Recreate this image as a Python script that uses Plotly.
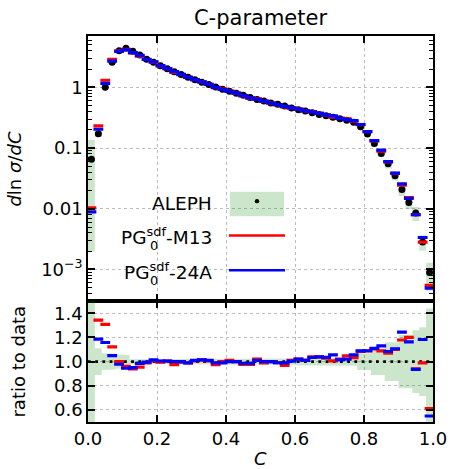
import numpy as np
import plotly.graph_objects as go

# ---------------- data ----------------
bin_lo = [round(0.02 * i, 2) for i in range(50)]
bin_hi = [round(0.02 * (i + 1), 2) for i in range(50)]
c_centers = [round(0.02 * i + 0.01, 2) for i in range(50)]

aleph = [0.0656, 0.172, 1.00, 2.58, 4.00, 4.40, 3.93, 3.41, 2.90, 2.58,
         2.27, 2.02, 1.81, 1.63, 1.47, 1.33, 1.21, 1.11, 1.01, 0.930,
         0.860, 0.800, 0.740, 0.680, 0.630, 0.594, 0.552, 0.524, 0.490, 0.455,
         0.427, 0.406, 0.381, 0.358, 0.340, 0.320, 0.303, 0.288, 0.267, 0.224,
         0.171, 0.119, 0.0815, 0.0550, 0.0348, 0.0207, 0.0127, 0.0085, 0.00284, 0.000895]

err_up = [1.06, 0.11, 0.07, 0.065, 0.06, 0.055, 0.02, 0.02, 0.02, 0.02,
          0.02, 0.02, 0.02, 0.02, 0.02, 0.02, 0.02, 0.02, 0.02, 0.02,
          0.025, 0.025, 0.025, 0.025, 0.025, 0.025, 0.025, 0.025, 0.025, 0.025,
          0.03, 0.03, 0.03, 0.03, 0.03, 0.035, 0.035, 0.035, 0.035, 0.07,
          0.07, 0.11, 0.11, 0.16, 0.16, 0.22, 0.22, 0.26, 0.285, 0.44]
err_dn = [0.97, 0.11, 0.07, 0.065, 0.06, 0.055, 0.02, 0.02, 0.02, 0.02,
          0.02, 0.02, 0.02, 0.02, 0.02, 0.02, 0.02, 0.02, 0.02, 0.02,
          0.025, 0.025, 0.025, 0.025, 0.025, 0.025, 0.025, 0.025, 0.025, 0.025,
          0.03, 0.03, 0.03, 0.03, 0.03, 0.035, 0.035, 0.035, 0.035, 0.07,
          0.07, 0.11, 0.11, 0.16, 0.16, 0.22, 0.22, 0.26, 0.285, 0.50]

pg_m13 = [0.0103, 0.231, 1.308, 2.895, 4.00, 4.224, 3.694, 3.257, 2.871, 2.593,
          2.259, 2.030, 1.765, 1.622, 1.455, 1.337, 1.228, 1.116, 0.985, 0.930,
          0.869, 0.800, 0.723, 0.664, 0.643, 0.588, 0.552, 0.519, 0.475, 0.460,
          0.436, 0.410, 0.396, 0.372, 0.350, 0.322, 0.309, 0.302, 0.276, 0.243,
          0.186, 0.1315, 0.0888, 0.0589, 0.0383, 0.0244, 0.01524, 0.00799, 0.00281, 0.000546]

pg_24a = [0.0089, 0.204, 1.158, 2.709, 3.912, 4.158, 3.734, 3.359, 2.886, 2.619,
          2.281, 2.030, 1.810, 1.630, 1.455, 1.343, 1.228, 1.121, 1.000, 0.921,
          0.860, 0.800, 0.729, 0.670, 0.636, 0.594, 0.552, 0.519, 0.485, 0.457,
          0.436, 0.410, 0.394, 0.372, 0.352, 0.338, 0.3075, 0.294, 0.282, 0.244,
          0.1864, 0.1321, 0.0921, 0.0596, 0.0385, 0.02575, 0.01477, 0.00796, 0.00336, 0.000492]

y_tickvals = [1e-3, 1e-2, 1e-1, 1]
y_ticktext = ["10<sup>\u22123</sup>", "0.01", "0.1", "1"]
r_tickvals = [0.6, 0.8, 1.0, 1.2, 1.4]
r_ticktext = ["0.6", "0.8", "1.0", "1.2", "1.4"]
x_tickvals = [0.0, 0.2, 0.4, 0.6, 0.8, 1.0]
x_ticktext = ["0.0", "0.2", "0.4", "0.6", "0.8", "1.0"]

# ---------------- derived ----------------
aleph_a = np.array(aleph)
m13_a = np.array(pg_m13)
a24_a = np.array(pg_24a)
up_a = np.array(err_up)
dn_a = np.array(err_dn)
ratio_m13 = m13_a / aleph_a
ratio_24a = a24_a / aleph_a

step_x = []
for lo, hi in zip(bin_lo, bin_hi):
    step_x += [lo, hi]

def steps(vals):
    out = []
    for v in vals:
        out += [float(v), float(v)]
    return out

band_hi_top = steps(aleph_a * (1 + up_a))
band_lo_top = steps(aleph_a * (1 - dn_a))
band_hi_r = steps(1 + up_a)
band_lo_r = steps(1 - dn_a)

GREEN = "rgba(0,128,0,0.2)"
FONT = "DejaVu Sans"

# ---------------- figure geometry (px) ----------------
W, H = 450, 469
L, R, T, B = 88, 17, 36, 47.3
PW = W - L - R
PH = H - T - B
split = 120.7 / PH

def px_x(px):
    return (px - L) / PW

def px_y(py):
    return (H - B - py) / PH

fig = go.Figure()

# band top panel
fig.add_trace(go.Scatter(x=step_x, y=band_lo_top, mode="lines", line=dict(width=0),
                         hoverinfo="skip", showlegend=False, xaxis="x", yaxis="y"))
fig.add_trace(go.Scatter(x=step_x, y=band_hi_top, mode="lines", line=dict(width=0),
                         fill="tonexty", fillcolor=GREEN, hoverinfo="skip",
                         showlegend=False, xaxis="x", yaxis="y"))
# band ratio panel
fig.add_trace(go.Scatter(x=step_x, y=band_lo_r, mode="lines", line=dict(width=0),
                         hoverinfo="skip", showlegend=False, xaxis="x2", yaxis="y2"))
fig.add_trace(go.Scatter(x=step_x, y=band_hi_r, mode="lines", line=dict(width=0),
                         fill="tonexty", fillcolor=GREEN, hoverinfo="skip",
                         showlegend=False, xaxis="x2", yaxis="y2"))
# unity line
fig.add_trace(go.Scatter(x=[0, 1], y=[1, 1], mode="lines",
                         line=dict(color="black", width=2.8, dash="2.8px,4.4px"),
                         showlegend=False, xaxis="x2", yaxis="y2"))

# data
fig.add_trace(go.Scatter(x=c_centers, y=aleph, mode="markers",
                         marker=dict(symbol="circle", size=7, color="black"),
                         name="ALEPH", showlegend=False, xaxis="x", yaxis="y"))

mk = dict(symbol="line-ew", size=7)
for vals, rat, col, nm in [(pg_m13, ratio_m13, "#ff0000", "M13"),
                           (pg_24a, ratio_24a, "#0000ff", "24A")]:
    fig.add_trace(go.Scatter(x=c_centers, y=vals, mode="markers",
                             marker=dict(**mk, line=dict(color=col, width=3.2)),
                             showlegend=False, xaxis="x", yaxis="y"))
    fig.add_trace(go.Scatter(x=c_centers, y=rat, mode="markers",
                             marker=dict(**mk, line=dict(color=col, width=3.2)),
                             showlegend=False, xaxis="x2", yaxis="y2", cliponaxis=True))

axis_common = dict(showline=True, linecolor="black", linewidth=1.5, mirror="ticks",
                   ticks="inside", tickcolor="black", tickwidth=1.5, ticklen=7,
                   tickfont=dict(family=FONT, size=18, color="black"),
                   showgrid=True, gridcolor="#bcbcbc", griddash="dot", gridwidth=1,
                   zeroline=False)

minor_vals = [k * 10.0 ** e for e in range(-4, 1) for k in range(2, 10)]

fig.update_layout(
    width=W, height=H,
    margin=dict(l=L, r=R, t=T, b=B, autoexpand=False),
    plot_bgcolor="white", paper_bgcolor="white",
    font=dict(family=FONT, color="black"),
    title=dict(text="C-parameter", font=dict(family=FONT, size=21, color="black"),
               x=260.5 / W, xanchor="center",
               y=1 - 17.5 / H, yanchor="middle", yref="container"),
    xaxis=dict(axis_common, domain=[0, 1], range=[0, 1], anchor="y", matches="x2",
               tickvals=x_tickvals, ticktext=x_ticktext, showticklabels=False),
    yaxis=dict(axis_common, domain=[split, 1], type="log",
               range=[np.log10(3.0e-4), np.log10(7.0)],
               tickvals=y_tickvals, ticktext=y_ticktext, anchor="x",
               minor=dict(tickvals=minor_vals, ticks="inside", ticklen=4,
                          tickcolor="black", tickwidth=1, showgrid=False)),
    xaxis2=dict(axis_common, domain=[0, 1], range=[0, 1], anchor="y2",
                tickvals=x_tickvals, ticktext=x_ticktext),
    yaxis2=dict(axis_common, domain=[0, split], range=[0.5, 1.5], anchor="x2",
                tickvals=r_tickvals, ticktext=r_ticktext),
    showlegend=False,
)

ann = []
# axis titles
ann.append(dict(text="<i>d</i>ln <i>\u03c3</i>/<i>dC</i>", textangle=-90,
                x=px_x(15), y=px_y(168.5), xref="paper", yref="paper",
                xanchor="center", yanchor="middle", showarrow=False,
                font=dict(family=FONT, size=18, color="black")))
ann.append(dict(text="ratio to data", textangle=-90,
                x=px_x(19), y=px_y(361.3), xref="paper", yref="paper",
                xanchor="center", yanchor="middle", showarrow=False,
                font=dict(family=FONT, size=18, color="black")))
ann.append(dict(text="<i>C</i>", x=px_x(260.5), y=px_y(458.3), xref="paper", yref="paper",
                xanchor="center", yanchor="middle", showarrow=False,
                font=dict(family=FONT, size=18, color="black")))
# legend texts
leg_font = dict(family=FONT, size=18.5, color="black")
sub_font = dict(family=FONT, size=13, color="black")
ann.append(dict(text="ALEPH", x=px_x(213.5), y=px_y(203.3), xref="paper", yref="paper",
                xanchor="right", yanchor="middle", showarrow=False, font=leg_font))
for label, yc in [("-M13", 238.5), ("-24A", 273.5)]:
    ann.append(dict(text="PG<sup>sdf</sup>" + label, x=px_x(213.5), y=px_y(yc - 3),
                    xref="paper", yref="paper", xanchor="right", yanchor="middle",
                    showarrow=False, font=leg_font))
    ann.append(dict(text="0", x=px_x(148), y=px_y(yc + 7), xref="paper", yref="paper",
                    xanchor="left", yanchor="middle", showarrow=False, font=sub_font))
fig.update_layout(annotations=ann)

shapes = [
    dict(type="rect", xref="paper", yref="paper", x0=px_x(230), x1=px_x(284),
         y0=px_y(216), y1=px_y(191.7), fillcolor=GREEN, line=dict(width=0), layer="above"),
    dict(type="circle", xref="paper", yref="paper", x0=px_x(254.8), x1=px_x(259.2),
         y0=px_y(203.2), y1=px_y(198.8), fillcolor="black", line=dict(width=0), layer="above"),
    dict(type="line", xref="paper", yref="paper", x0=px_x(229), x1=px_x(285),
         y0=px_y(235.3), y1=px_y(235.3), line=dict(color="#ff0000", width=2.5), layer="above"),
    dict(type="line", xref="paper", yref="paper", x0=px_x(229), x1=px_x(285),
         y0=px_y(270), y1=px_y(270), line=dict(color="#0000ff", width=2.5), layer="above"),
]
fig.update_layout(shapes=shapes)

fig.write_html("out.html", config={"displayModeBar": False},
               post_script="document.body.style.margin='0';")
